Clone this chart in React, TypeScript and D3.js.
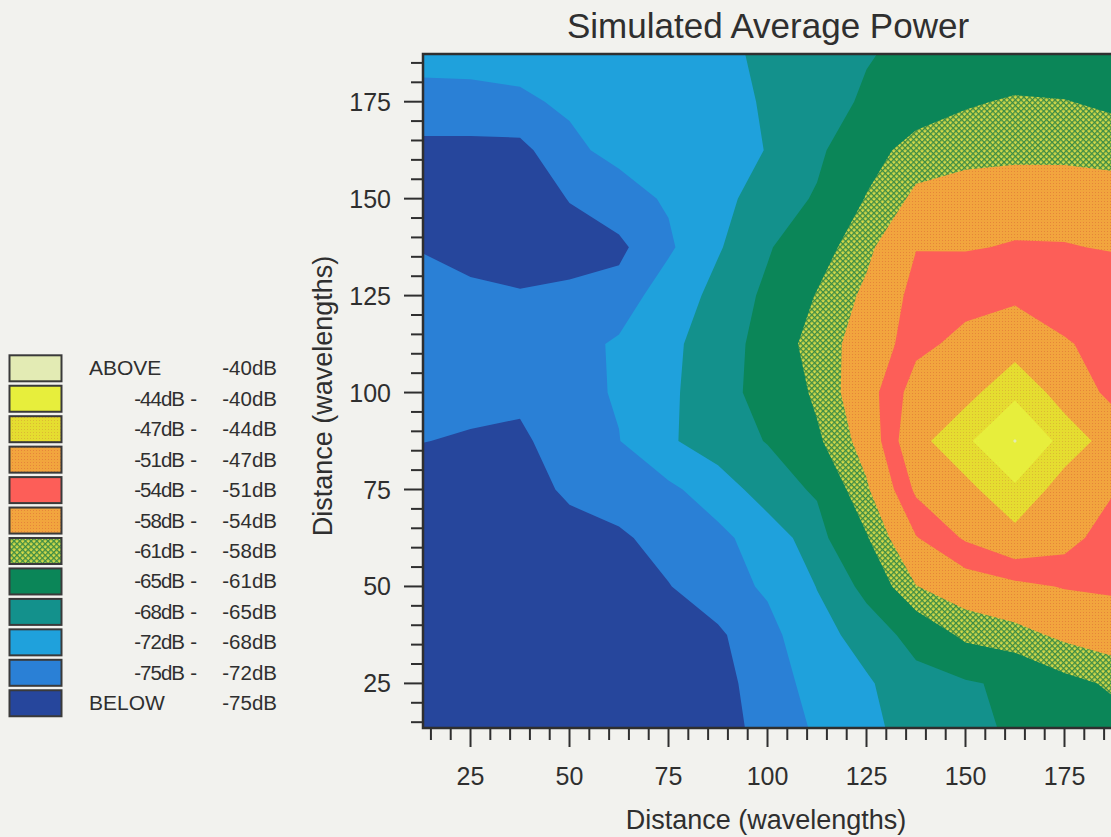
import React from 'react';
import * as d3 from 'd3';

// Grid node positions (wavelengths)
const gridX = [12.5, 25, 37.5, 50, 62.5, 75, 87.5, 100, 112.5, 125, 137.5, 150, 162.5, 175, 187.5];
const gridY = [12.5, 25, 37.5, 50, 62.5, 75, 87.5, 100, 112.5, 125, 137.5, 150, 162.5, 175, 187.5];

// Simulated average power (dB), one row per y node, listed from y = 187.5 down to y = 12.5
const powerRows = [
  [-71.4, -71.3, -71.1, -70.6, -70.1, -69.5, -68.6, -67.5, -66.3, -65.2, -64.3, -63.5, -62.9, -62.9, -63.2],
  [-72.6, -72.6, -72.4, -71.6, -70.8, -70.0, -69.0, -67.7, -66.2, -64.6, -63.0, -61.3, -60.7, -60.9, -61.5],
  [-76.0, -76.0, -75.9, -72.6, -71.2, -70.2, -69.2, -67.9, -65.6, -62.5, -59.6, -59.5, -59.2, -59.2, -59.6],
  [-77.0, -77.3, -76.5, -74.9, -73.3, -71.6, -69.0, -66.5, -64.7, -60.8, -57.3, -55.8, -55.2, -55.3, -55.9],
  [-75.1, -75.8, -76.2, -76.0, -75.6, -72.6, -68.3, -65.3, -62.6, -58.8, -54.1, -54.2, -53.8, -53.85, -54.2],
  [-74.2, -74.5, -74.8, -74.5, -74.0, -70.0, -67.0, -64.4, -60.8, -57.3, -52.9, -52.0, -51.7, -51.8, -52.3],
  [-73.2, -73.4, -73.7, -73.3, -71.5, -68.9, -66.0, -64.2, -59.0, -57.0, -51.8, -50.15, -48.3, -50.85, -51.6],
  [-73.8, -73.8, -74.3, -73.0, -71.7, -68.7, -65.7, -64.3, -60.3, -55.5, -49.5, -48.0, -44.8, -48.3, -52.1],
  [-74.9, -75.4, -75.6, -73.3, -72.1, -68.5, -66.0, -64.9, -61.6, -56.5, -48.0, -44.7, -39.8, -45.3, -48.4],
  [-77.0, -77.5, -76.5, -74.4, -73.7, -72.8, -70.0, -66.2, -64.66, -58.5, -50.4, -47.9, -44.65, -48.4, -50.8],
  [-78.0, -78.0, -77.3, -76.3, -75.4, -74.05, -73.0, -70.0, -66.1, -61.3, -54.2, -50.6, -48.05, -49.6, -53.0],
  [-78.5, -78.5, -78.0, -77.3, -76.2, -75.1, -73.6, -71.46, -67.9, -64.1, -58.1, -56.0, -54.8, -53.8, -53.5],
  [-78.5, -78.5, -78.0, -77.5, -76.8, -76.0, -75.4, -73.2, -69.2, -66.7, -63.9, -60.2, -59.1, -57.3, -56.0],
  [-78.3, -78.3, -78.0, -77.7, -77.2, -76.7, -75.7, -74.0, -70.5, -68.4, -66.0, -65.4, -64.3, -62.0, -60.5],
  [-78.0, -78.0, -77.8, -77.5, -77.0, -76.5, -76.0, -74.2, -71.6, -69.0, -66.5, -65.4, -64.8, -63.5, -62.3],
];

// Contour levels (dB)
const thresholds = [-75, -72, -68, -65, -61, -58, -54, -51, -47, -44, -40];

// Band fills from BELOW up to ABOVE
const bandFills = [
  '#26469c',
  '#2a80d6',
  '#1fa1dc',
  '#13918c',
  '#0b8658',
  'url(#hatchGreen)',
  'url(#dotOrange)',
  '#fd5e58',
  'url(#dotOrange)',
  'url(#dotYellow)',
  '#e7ee3c',
  '#e3ebb4',
];

// Legend text, top row first
const legendLow = ['ABOVE', '-44dB', '-47dB', '-51dB', '-54dB', '-58dB', '-61dB', '-65dB', '-68dB', '-72dB', '-75dB', 'BELOW'];
const legendHigh = ['-40dB', '-40dB', '-44dB', '-47dB', '-51dB', '-54dB', '-58dB', '-61dB', '-65dB', '-68dB', '-72dB', '-75dB'];

const xMajorTicks = [25, 50, 75, 100, 125, 150, 175];
const yMajorTicks = [25, 50, 75, 100, 125, 150, 175];

const FONT = '"Liberation Sans", Arial, Helvetica, sans-serif';
const INK = '#2f2f2f';

export default function App() {
  const W = 1111;
  const H = 837;
  const left = 423;
  const right = 1114;
  const top = 54;
  const bottom = 728;

  const x = d3.scaleLinear().domain([13, 187.5]).range([left, right]);
  const y = d3.scaleLinear().domain([13.5, 187.3]).range([bottom, top]);

  const nx = gridX.length;
  const ny = gridY.length;
  const values: number[] = [];
  for (let j = 0; j < ny; j++) {
    const row = powerRows[ny - 1 - j];
    for (let i = 0; i < nx; i++) values.push(row[i]);
  }
  const bands = d3.contours().size([nx, ny]).thresholds(thresholds)(values);

  const stepX = gridX[1] - gridX[0];
  const stepY = gridY[1] - gridY[0];
  const toPx = (cx: number) => x(gridX[0] + (cx - 0.5) * stepX);
  const toPy = (cy: number) => y(gridY[0] + (cy - 0.5) * stepY);
  const path = d3.geoPath(
    d3.geoTransform({
      point(px: number, py: number) {
        (this as any).stream.point(toPx(px), toPy(py));
      },
    })
  );

  const minorX = d3.range(15, 186, 5).filter((v) => v % 25 !== 0);
  const minorY = d3.range(15, 186, 5).filter((v) => v % 25 !== 0);

  const rowCenter = (i: number) => 368.3 + i * 30.45;

  return (
    <svg
      width={W}
      height={H}
      viewBox={`0 0 ${W} ${H}`}
      style={{ position: 'absolute', left: 0, top: 0, display: 'block' }}
      fontFamily={FONT}
    >
      <defs>
        <clipPath id="plotClip">
          <rect x={left} y={top} width={right - left} height={bottom - top} />
        </clipPath>
        <pattern id="hatchGreen" width="4" height="4" patternUnits="userSpaceOnUse" patternTransform="rotate(45)">
          <rect width="4" height="4" fill="#d3d94a" />
          <rect width="4" height="1.3" fill="#3d8c44" />
          <rect width="1.3" height="4" fill="#3d8c44" />
        </pattern>
        <pattern id="dotOrange" width="3" height="3" patternUnits="userSpaceOnUse">
          <rect width="3" height="3" fill="#f2a53e" />
          <rect width="1" height="1" fill="#e6843a" />
        </pattern>
        <pattern id="dotYellow" width="3" height="3" patternUnits="userSpaceOnUse">
          <rect width="3" height="3" fill="#e5dd30" />
          <rect width="1" height="1" fill="#dcb834" />
        </pattern>
      </defs>

      <rect x={0} y={0} width={W} height={H} fill="#f2f2ee" />

      {/* Filled contour bands */}
      <g clipPath="url(#plotClip)">
        <rect x={left} y={top} width={right - left} height={bottom - top} fill={bandFills[0]} />
        {bands.map((b, k) => (
          <path key={k} d={path(b as any) || ''} fill={bandFills[k + 1]} />
        ))}
      </g>

      {/* Frame */}
      <rect x={left} y={top} width={right - left} height={bottom - top} fill="none" stroke={INK} strokeWidth={2.5} />

      {/* Axis ticks */}
      <g stroke={INK} strokeWidth={2}>
        {minorX.map((v) => (
          <line key={`mx${v}`} x1={x(v)} x2={x(v)} y1={bottom} y2={bottom + 12} />
        ))}
        {xMajorTicks.map((v) => (
          <line key={`Mx${v}`} x1={x(v)} x2={x(v)} y1={bottom} y2={bottom + 19} />
        ))}
        {minorY.map((v) => (
          <line key={`my${v}`} x1={left} x2={left - 12} y1={y(v)} y2={y(v)} />
        ))}
        {yMajorTicks.map((v) => (
          <line key={`My${v}`} x1={left} x2={left - 19} y1={y(v)} y2={y(v)} />
        ))}
      </g>

      <g fill={INK} fontSize={25}>
        {xMajorTicks.map((v) => (
          <text key={`lx${v}`} x={x(v)} y={785} textAnchor="middle">
            {v}
          </text>
        ))}
        {yMajorTicks.map((v) => (
          <text key={`ly${v}`} x={391} y={y(v) + 9} textAnchor="end">
            {v}
          </text>
        ))}
      </g>

      {/* Axis titles and heading */}
      <text x={766} y={829} textAnchor="middle" fontSize={27} fill={INK}>
        Distance (wavelengths)
      </text>
      <text transform="translate(332, 396) rotate(-90)" textAnchor="middle" fontSize={27} fill={INK}>
        Distance (wavelengths)
      </text>
      <text x={768} y={38} textAnchor="middle" fontSize={35} fill={INK}>
        Simulated Average Power
      </text>

      {/* Legend */}
      <g fill={INK} fontSize={20.5}>
        {legendLow.map((lab, i) => {
          const cy = rowCenter(i);
          const fill = bandFills[bandFills.length - 1 - i];
          const isEnd = lab === 'ABOVE' || lab === 'BELOW';
          return (
            <g key={`lg${i}`}>
              <rect x={9.5} y={cy - 13} width={52} height={26} fill={fill} stroke="#3a3a3a" strokeWidth={2} />
              {isEnd ? (
                <text x={89} y={cy + 7} fontSize={21}>
                  {lab}
                </text>
              ) : (
                <>
                  <text x={184} y={cy + 7} textAnchor="end" letterSpacing={-1}>
                    {lab}
                  </text>
                  <text x={197} y={cy + 7} textAnchor="end">
                    -
                  </text>
                </>
              )}
              <text x={277} y={cy + 7} textAnchor="end">
                {legendHigh[i]}
              </text>
            </g>
          );
        })}
      </g>
    </svg>
  );
}
